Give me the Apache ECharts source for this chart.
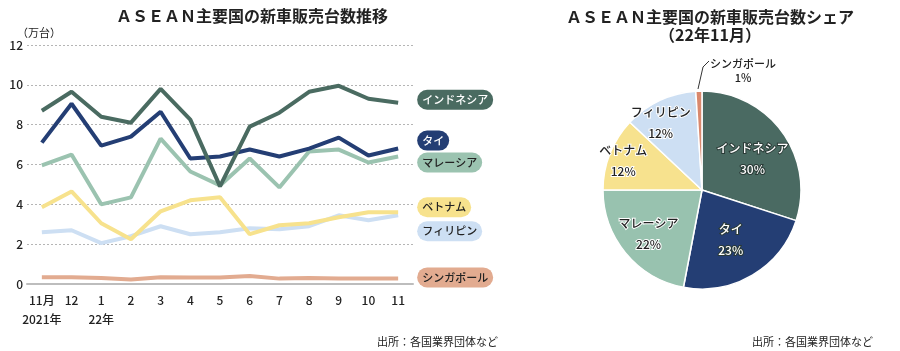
<!DOCTYPE html>
<html>
<head>
<meta charset="utf-8">
<script src="https://cdn.jsdelivr.net/npm/echarts@6/dist/echarts.min.js"></script>
<style>
  html, body { margin: 0; padding: 0; background: #fff; }
  #chart { width: 900px; height: 351px; }
</style>
</head>
<body>
<div id="chart"></div>
<script>
// 月（2021年11月〜22年11月）
var months = ['11月\n2021年', '12', '1\n22年', '2', '3', '4', '5', '6', '7', '8', '9', '10', '11']
var yTicks = [0, 2, 4, 6, 8, 10, 12]

// 新車販売台数（万台）
var indonesia = [8.7, 9.65, 8.4, 8.1, 9.8, 8.25, 4.9, 7.9, 8.6, 9.65, 9.95, 9.3, 9.1]
var thai      = [7.1, 9.05, 6.95, 7.4, 8.65, 6.3, 6.4, 6.75, 6.4, 6.8, 7.35, 6.45, 6.8]
var malaysia  = [5.95, 6.5, 4.0, 4.35, 7.3, 5.65, 4.95, 6.3, 4.85, 6.65, 6.75, 6.1, 6.4]
var vietnam   = [3.85, 4.65, 3.05, 2.25, 3.65, 4.2, 4.35, 2.5, 2.95, 3.05, 3.35, 3.6, 3.6]
var philippines = [2.6, 2.7, 2.05, 2.4, 2.9, 2.5, 2.6, 2.8, 2.75, 2.9, 3.45, 3.2, 3.45]
var singapore = [0.34, 0.34, 0.3, 0.22, 0.34, 0.33, 0.33, 0.4, 0.27, 0.3, 0.28, 0.28, 0.28]

// シェア（22年11月、%）
var shareNames  = ['インドネシア', 'タイ', 'マレーシア', 'ベトナム', 'フィリピン', 'シンガポール']
var shareValues = [30, 23, 22, 12, 12, 1]

var FONT = '"Noto Sans CJK JP", sans-serif'
var colors = {
    'インドネシア': '#4a6b61',
    'タイ': '#243e74',
    'マレーシア': '#9bc3b0',
    'ベトナム': '#f7e28d',
    'フィリピン': '#cddff3',
    'シンガポール': '#e2ab90'
}
var pieColors = ['#4a6a62', '#243e74', '#98c2af', '#f7e28e', '#cddff3', '#d9886d']

// 線の右端ラベル（ずらし量）
const lineSeries = (name, data, dy, txtColor) => {
    return {
        name: name,
        type: 'line',
        data: data,
        symbol: 'none',
        lineStyle: { width: 4, color: colors[name] },
        itemStyle: { color: colors[name] },
        z: 2,
        endLabel: {
            show: true,
            formatter: name,
            distance: 19,
            offset: [0, dy],
            backgroundColor: colors[name],
            borderRadius: 10,
            padding: [4, 5, 3, 5],
            color: txtColor,
            fontFamily: FONT,
            fontSize: 11,
            fontWeight: 500,
            lineHeight: 13
        }
    }
}

// 円グラフの内側ラベル位置の微調整
var pieOffsets = [[8, 0], [2, 5], [-13, 10], [-30, -10], [-19, -20], [0, 0]]
var pieData = shareNames.map((n, i) => {
    var dark = i < 2
    var item = {
        name: n,
        value: shareValues[i],
        itemStyle: { color: pieColors[i] },
        label: {
            offset: pieOffsets[i],
            color: dark ? '#fff' : '#222',
            textBorderColor: dark ? '#2a3a36' : '#fff',
            textBorderWidth: 2
        }
    }
    if (i == 5) {
        item.label = {
            position: 'outside',
            color: '#222',
            fontSize: 11,
            lineHeight: 14,
            textBorderWidth: 0
        }
        item.labelLine = { show: true, lineStyle: { color: '#333', width: 1 } }
    }
    return item
})

var option = {
    animation: false,
    textStyle: { fontFamily: FONT },
    title: [
        {
            text: 'ＡＳＥＡＮ主要国の新車販売台数推移',
            left: 247, top: 3, textAlign: 'center',
            textStyle: { fontSize: 16, fontWeight: 'bold', color: '#222', fontFamily: FONT }
        },
        {
            text: '（万台）',
            left: 12, top: 22,
            textStyle: { fontSize: 11, fontWeight: 'normal', color: '#222', fontFamily: FONT }
        },
        {
            text: 'ＡＳＥＡＮ主要国の新車販売台数シェア\n（22年11月）',
            left: 705, top: 3, textAlign: 'center',
            textStyle: { fontSize: 16, fontWeight: 'bold', color: '#222', fontFamily: FONT, lineHeight: 18 }
        },
        {
            text: '出所：各国業界団体など',
            right: 397, top: 331,
            textStyle: { fontSize: 11, fontWeight: 'normal', color: '#222', fontFamily: FONT }
        },
        {
            text: '出所：各国業界団体など',
            right: 22, top: 331,
            textStyle: { fontSize: 11, fontWeight: 'normal', color: '#222', fontFamily: FONT }
        }
    ],
    grid: { left: 27, right: 487, top: 45, bottom: 67, containLabel: false },
    xAxis: {
        type: 'category',
        data: months,
        boundaryGap: true,
        axisLine: { lineStyle: { color: '#bdbdbd', width: 2 } },
        axisTick: { show: false },
        axisLabel: { interval: 0, color: '#222', fontSize: 12, fontWeight: 500, lineHeight: 19, margin: 7, fontFamily: FONT }
    },
    yAxis: {
        type: 'value',
        min: yTicks[0],
        max: yTicks[yTicks.length - 1],
        interval: 2,
        axisLine: { show: false },
        axisTick: { show: false },
        axisLabel: { color: '#222', fontSize: 12, fontWeight: 500, margin: 4, fontFamily: FONT },
        splitLine: { lineStyle: { color: '#b5b5b5', type: [2, 2], width: 1 } }
    },
    series: [
        lineSeries('シンガポール', singapore, -1, '#222'),
        lineSeries('フィリピン', philippines, 16, '#222'),
        lineSeries('ベトナム', vietnam, -5, '#222'),
        lineSeries('マレーシア', malaysia, 6, '#222'),
        lineSeries('タイ', thai, -8, '#fff'),
        lineSeries('インドネシア', indonesia, -3, '#fff'),
        {
            type: 'pie',
            center: [702, 190],
            radius: 99,
            startAngle: 90,
            clockwise: true,
            data: pieData,
            itemStyle: { borderColor: '#fff', borderWidth: 1.5 },
            label: {
                position: 'inside',
                formatter: '{b}\n{c}%',
                fontSize: 12,
                fontWeight: 500,
                lineHeight: 21,
                fontFamily: FONT
            },
            labelLayout: (p) => {
                if (p.dataIndex == 5) {
                    return {
                        x: 743, y: 71, align: 'center', verticalAlign: 'middle',
                        labelLinePoints: [[698, 89], [703, 67], [709, 61]]
                    }
                }
            }
        }
    ]
}

var myChart = echarts.init(document.getElementById('chart'))
myChart.setOption(option)
</script>
</body>
</html>
